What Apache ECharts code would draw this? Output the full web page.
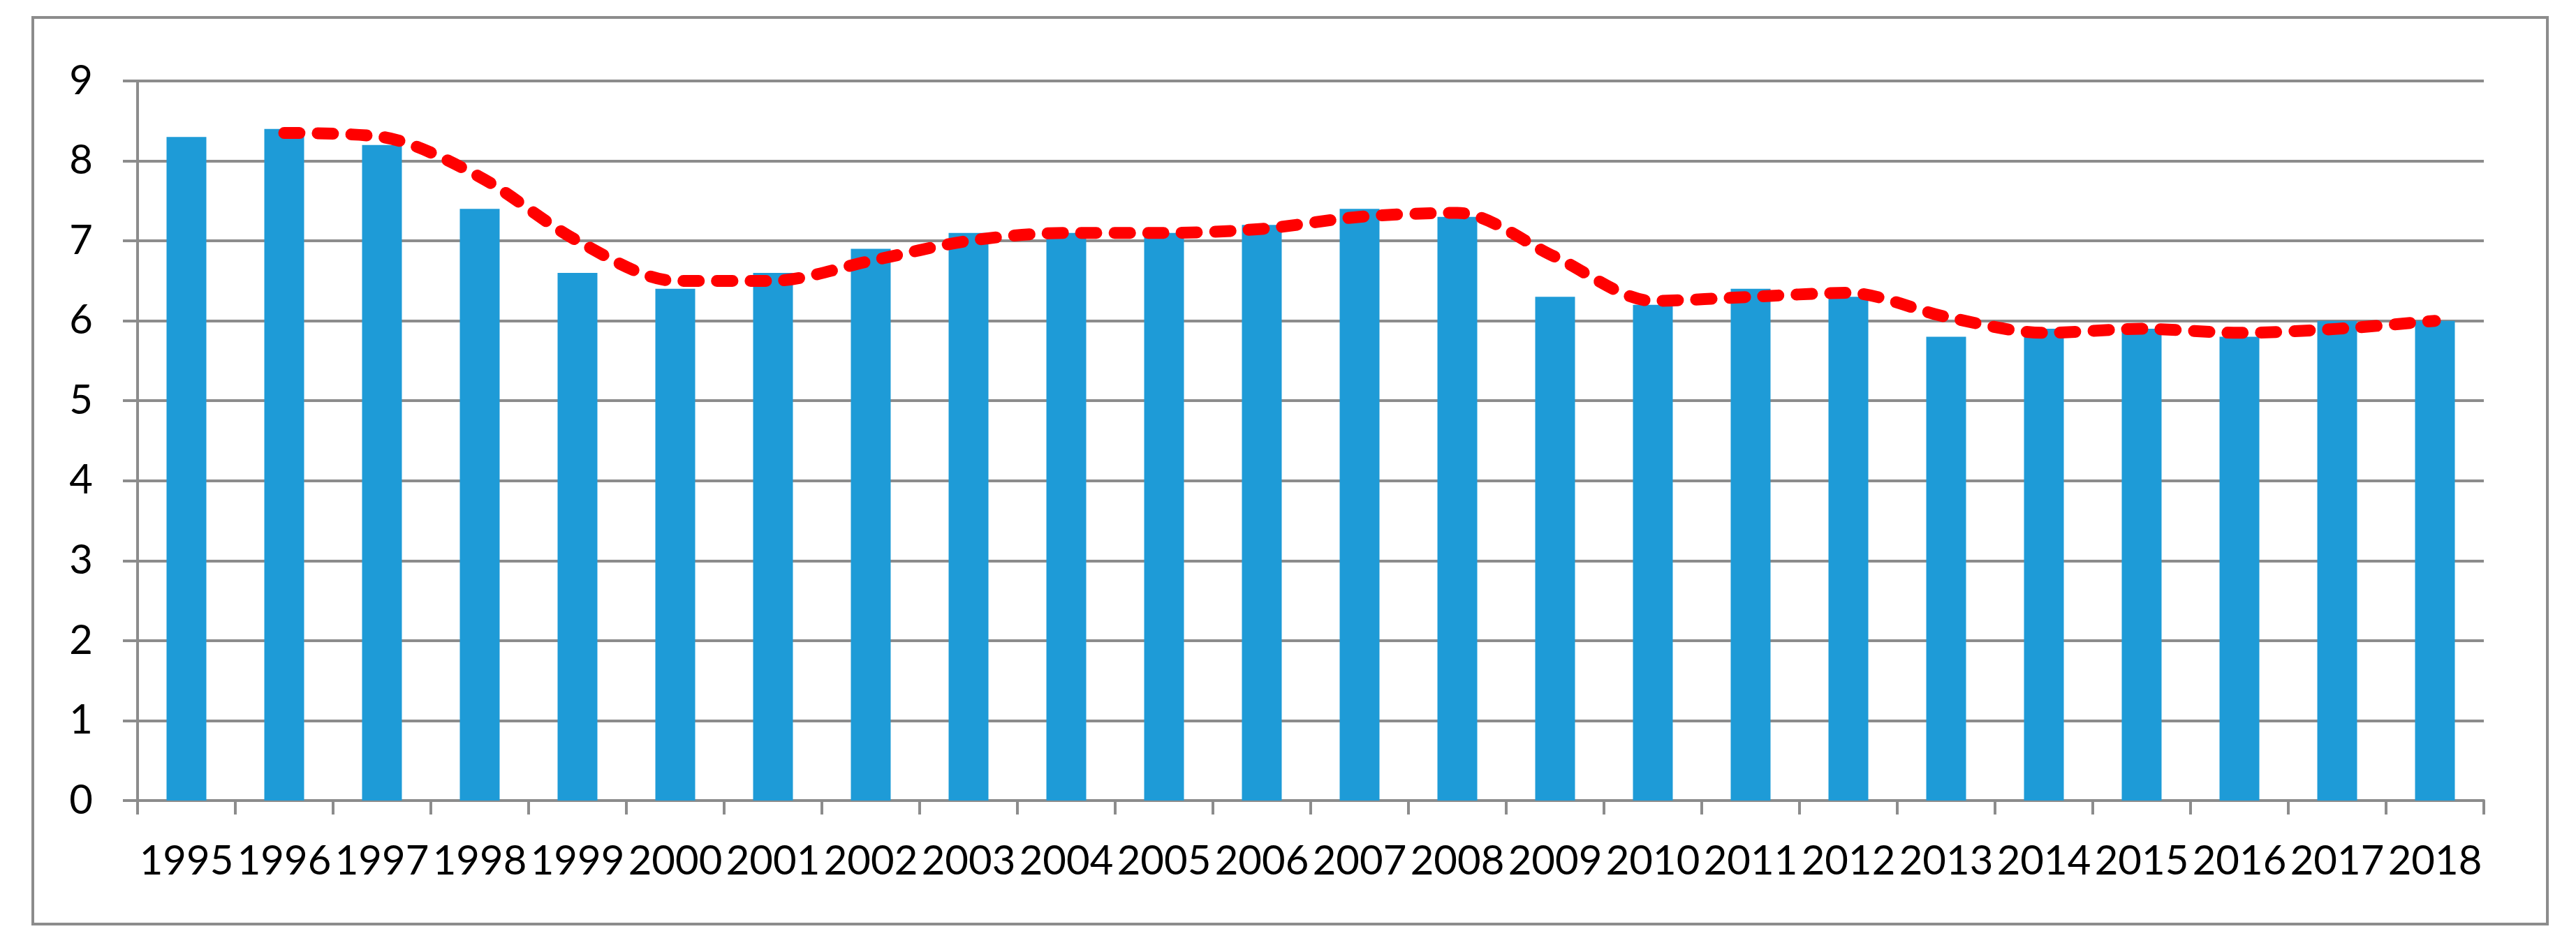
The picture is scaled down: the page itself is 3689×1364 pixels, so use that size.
<!DOCTYPE html>
<html>
<head>
<meta charset="utf-8">
<script src="https://cdn.jsdelivr.net/npm/echarts@6/dist/echarts.min.js"></script>
<style>
html,body{margin:0;padding:0;background:#fff;}
#chart{width:3689px;height:1364px;}
</style>
</head>
<body>
<div id="chart"></div>
<script>
// Data
var years = ['1995','1996','1997','1998','1999','2000','2001','2002','2003','2004','2005','2006','2007','2008','2009','2010','2011','2012','2013','2014','2015','2016','2017','2018'];
var barValues = [8.3, 8.4, 8.2, 7.4, 6.6, 6.4, 6.6, 6.9, 7.1, 7.1, 7.1, 7.2, 7.4, 7.3, 6.3, 6.2, 6.4, 6.3, 5.8, 5.9, 5.9, 5.8, 6.0, 6.0];
// trend line (2-period moving average as drawn), starting at 1996
var trendValues = [null, 8.35, 8.3, 7.8, 7.0, 6.5, 6.5, 6.75, 7.0, 7.1, 7.1, 7.15, 7.3, 7.35, 6.8, 6.25, 6.3, 6.35, 6.05, 5.85, 5.9, 5.85, 5.9, 6.0];
var yTicks = {min: 0, max: 9, interval: 1};

var gray = '#8c8c8c';
var fontFamily = 'Lato, "Open Sans", sans-serif';
var chart = echarts.init(document.getElementById('chart'), null, {renderer: 'canvas'});
chart.setOption({
  animation: false,
  backgroundColor: '#ffffff',
  graphic: [{
    type: 'rect',
    shape: {x: 47, y: 25, width: 3601, height: 1299},
    style: {fill: 'none', stroke: gray, lineWidth: 4},
    silent: true,
    z: 0
  }],
  grid: {left: 197, right: 132, top: 116, bottom: 217, containLabel: false},
  xAxis: {
    type: 'category',
    data: years,
    boundaryGap: true,
    axisLine: {show: true, lineStyle: {color: gray, width: 4}},
    axisTick: {show: true, length: 20, lineStyle: {color: gray, width: 4}},
    axisLabel: {interval: 0, margin: 58, color: '#000', fontSize: 58, fontFamily: fontFamily},
    splitLine: {show: false}
  },
  yAxis: {
    type: 'value',
    min: yTicks.min, max: yTicks.max, interval: yTicks.interval,
    axisLine: {show: true, lineStyle: {color: gray, width: 4}},
    axisTick: {show: true, length: 21, lineStyle: {color: gray, width: 4}},
    axisLabel: {margin: 64, color: '#000', fontSize: 58, fontFamily: fontFamily},
    splitLine: {show: true, lineStyle: {color: gray, width: 4}}
  },
  series: [{
    type: 'bar',
    data: barValues,
    barWidth: 57,
    itemStyle: {color: '#1e9bd7'},
    z: 2
  }, {
    type: 'line',
    data: trendValues,
    smooth: 0.3,
    showSymbol: false,
    connectNulls: false,
    lineStyle: {color: '#ff0000', width: 17, type: [22, 26], cap: 'round', join: 'round'},
    z: 3
  }]
});
</script>
</body>
</html>
